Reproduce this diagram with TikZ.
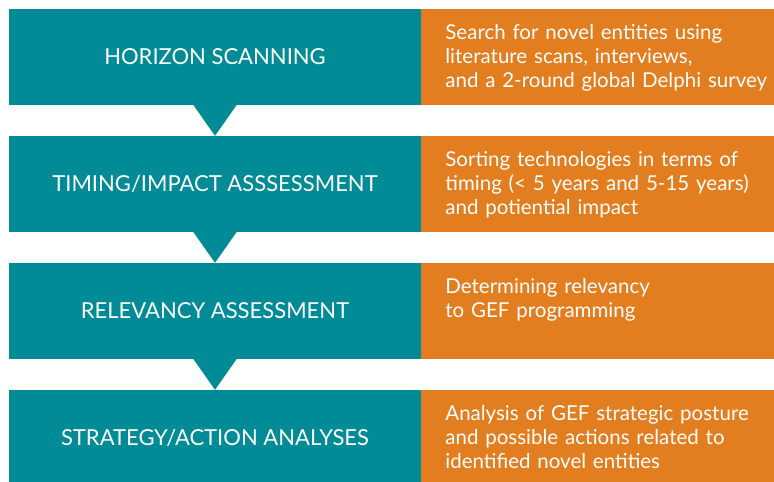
\documentclass[tikz,border=0pt]{standalone}
\usepackage{fontspec}
\setmainfont{Lato}
\usetikzlibrary{positioning}
\definecolor{stageteal}{RGB}{0,139,150}
\definecolor{noteorange}{RGB}{226,126,32}

\begin{document}
\begin{tikzpicture}[x = 1pt, y = -1pt,
    stage/.style = {fill = stageteal, text = white, minimum width = 412pt, minimum height = 96pt, inner sep = 0pt, font = \fontsize{22}{26}\selectfont},
    note/.style = {fill = noteorange, text = white, minimum width = 353pt, minimum height = 96pt, text width = 353pt, inner xsep = 0pt, inner ysep = 0pt, text height = 30pt, text depth = 66pt, font = \fontsize{20.5}{24}\selectfont, execute at begin node = {\leftskip = 24pt\relax}}]
    \useasboundingbox (0,0) rectangle (774,482);
    \node[stage] (hs) at (215,57) {HORIZON SCANNING};
    \node[stage] (tia) at (215,184) {TIMING/IMPACT ASSSESSMENT};
    \node[stage] (ra) at (215,311) {RELEVANCY ASSESSMENT};
    \node[stage] (saa) at (215,438) {STRATEGY/ACTION ANALYSES};
    \node[note, right = 0pt of hs] (hsnote) {Search for novel entities using\\literature scans, interviews,\\and a 2-round global Delphi survey};
    \node[note, right = 0pt of tia] (tianote) {Sorting technologies in terms of\\timing (< 5 years and 5-15 years)\\and potiential impact};
    \node[note, right = 0pt of ra] (ranote) {Determining relevancy\\to GEF programming};
    \node[note, right = 0pt of saa] (saanote) {Analysis of GEF strategic posture\\and possible actions related to\\identified novel entities};
    \foreach \a/\b in {hs/tia, tia/ra, ra/saa}
        \fill[stageteal] ([xshift = -21.5pt]\a.south) -- ([xshift = 21.5pt]\a.south) -- (\b.north) -- cycle;
\end{tikzpicture}
\end{document}
